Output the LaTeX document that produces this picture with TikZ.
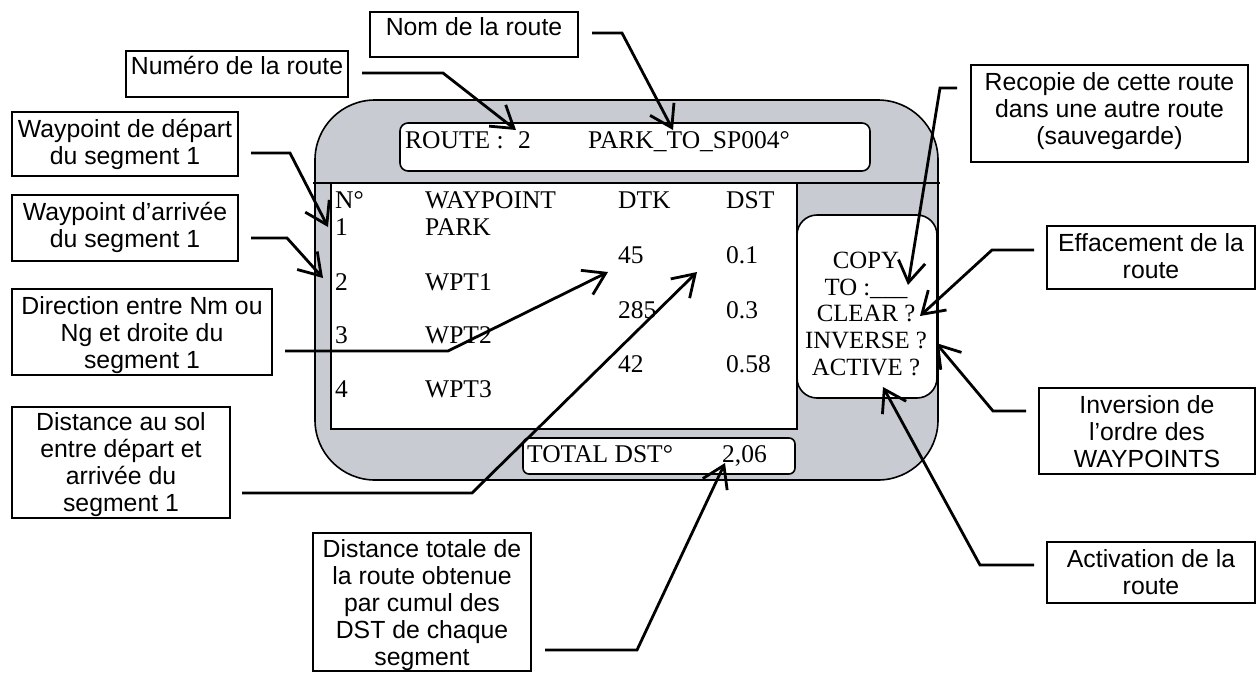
\documentclass[tikz,border=0pt]{standalone}
\usepackage{fontspec}
\setmainfont{Liberation Serif}
\setsansfont{Liberation Sans}
\usetikzlibrary{arrows.meta}
\definecolor{scr}{RGB}{200,203,210}
\newcommand\fsrule{\rule{0pt}{20pt}}
\newcommand\fsrul{\rule{0pt}{18pt}}
\begin{document}
\begin{tikzpicture}[x=1pt,y=-1pt,
  lbox/.style={draw, line width=1.8pt, inner sep=0pt, outer sep=0pt, anchor=north west},
  ltext/.style={font=\sffamily\fontsize{24.8}{27}\selectfont, align=center, inner sep=0pt, anchor=north},
  stext/.style={font=\rmfamily\fontsize{25.5}{27}\selectfont, inner sep=0pt, anchor=base west},
  panelbox/.style={draw, fill=white, inner sep=0pt, outer sep=0pt, anchor=north west},
  arr/.style={line width=2.8pt, -{Straight Barb[length=21pt,width=27pt]}},
]
\useasboundingbox (0,0) rectangle (1259,673);

% screen
\node (screen) [panelbox, fill=scr, line width=1.6pt, rounded corners=60pt,
  minimum width=623pt, minimum height=380pt] at (315,100) {};
\draw[line width=1.6pt] (313,183) -- (940,183);
\node (table) [panelbox, line width=1.8pt, minimum width=466pt, minimum height=246pt] at (331,183) {};
\node (header) [panelbox, line width=1.6pt, rounded corners=8pt, minimum width=470pt, minimum height=48pt] at (400,123) {};
\node (panel) [panelbox, line width=1.6pt, rounded corners=20pt, minimum width=140pt, minimum height=183pt] at (797,215) {};
\node (totbox) [panelbox, line width=1.6pt, rounded corners=6pt, minimum width=272pt, minimum height=36pt] at (523,438) {};

% screen texts
\node (routeLbl) [stext] at (405,148) {ROUTE :};
\node (routeNum) [stext] at (518,148) {2};
\node (routeName) [stext] at (588,148) {PARK\_TO\_SP004°};

\node (hN) [stext] at (335,208) {N°};
\node (hW) [stext] at (425,208) {WAYPOINT};
\node (hK) [stext] at (618,208) {DTK};
\node (hD) [stext] at (726,208) {DST};
\node (n1) [stext] at (335,235) {1};
\node (w1) [stext] at (425,235) {PARK};
\node (k1) [stext] at (618,263) {45};
\node (d1) [stext] at (726,263) {0.1};
\node (n2) [stext] at (335,290) {2};
\node (w2) [stext] at (425,290) {WPT1};
\node (k2) [stext] at (618,318) {285};
\node (d2) [stext] at (726,318) {0.3};
\node (n3) [stext] at (335,343) {3};
\node (w3) [stext] at (425,343) {WPT2};
\node (k3) [stext] at (618,372) {42};
\node (d3) [stext] at (726,372) {0.58};
\node (n4) [stext] at (335,397) {4};
\node (w4) [stext] at (425,397) {WPT3};
\node (totLbl) [stext] at (527,462) {TOTAL DST°};
\node (totVal) [stext] at (722,462) {2,06};

\node (panelText) [font=\rmfamily\fontsize{24.8}{26.8}\selectfont, align=center, inner sep=0pt, anchor=north]
  at (866,250) {\fsrul COPY\\TO :\_\_\_\\CLEAR ?\\INVERSE ?\\ACTIVE ?};

% label boxes
\node (bNom) [lbox, minimum width=208pt, minimum height=45pt] at (370,12) {};
\node (bNum) [lbox, minimum width=222pt, minimum height=46pt] at (126,51) {};
\node (bDep) [lbox, minimum width=226pt, minimum height=64pt] at (12,112) {};
\node (bArr) [lbox, minimum width=226pt, minimum height=66pt] at (12,195) {};
\node (bDir) [lbox, minimum width=260pt, minimum height=86pt] at (12,289) {};
\node (bSol) [lbox, minimum width=218pt, minimum height=111pt] at (12,407) {};
\node (bTot) [lbox, minimum width=218pt, minimum height=138pt] at (313,533) {};
\node (bRec) [lbox, minimum width=277pt, minimum height=97pt] at (971,65) {};
\node (bEff) [lbox, minimum width=208pt, minimum height=63pt] at (1047,226) {};
\node (bInv) [lbox, minimum width=216pt, minimum height=86pt] at (1039,388) {};
\node (bAct) [lbox, minimum width=208pt, minimum height=61pt] at (1047,542) {};

\node (tNom) [ltext] at ([yshift=-3pt]bNom.north) {\fsrule Nom de la route};
\node (tNum) [ltext] at ([yshift=-3pt]bNum.north) {\fsrule Numéro de la route};
\node (tDep) [ltext] at ([yshift=-5pt]bDep.north) {\fsrule Waypoint de départ\\du segment 1};
\node (tArr) [ltext] at ([yshift=-5pt]bArr.north) {\fsrule Waypoint d’arrivée\\du segment 1};
\node (tDir) [ltext] at ([yshift=-5pt]bDir.north) {\fsrule Direction entre Nm ou\\Ng et droite du\\segment 1};
\node (tSol) [ltext] at ([yshift=-3pt]bSol.north) {\fsrule Distance au sol\\entre départ et\\arrivée du\\segment 1};
\node (tTot) [ltext] at ([yshift=-4pt]bTot.north) {\fsrule Distance totale de\\la route obtenue\\par cumul des\\DST de chaque\\segment};
\node (tRec) [ltext] at ([yshift=-5pt]bRec.north) {\fsrule Recopie de cette route\\dans une autre route\\(sauvegarde)};
\node (tEff) [ltext] at ([yshift=-5pt]bEff.north) {\fsrule Effacement de la\\route};
\node (tInv) [ltext] at ([yshift=-5pt]bInv.north) {\fsrule Inversion de\\l’ordre des\\WAYPOINTS};
\node (tAct) [ltext] at ([yshift=-5pt]bAct.north) {\fsrule Activation de la\\route};

% arrow tips
\coordinate (pNom) at (673,130);
\coordinate (pNum) at (516,130);
\coordinate (pDep) at (328,227);
\coordinate (pArr) at (323,278);
\coordinate (pDir) at (608,272);
\coordinate (pSol) at (697,272);
\coordinate (pTot) at (725,463);
\coordinate (pRec) at (908,285);
\coordinate (pEff) at (920,316);
\coordinate (pInv) at (936,343);
\coordinate (pAct) at (883,387);

% connectors
\draw[arr] ([xshift=14pt,yshift=1.5pt]bNom.east) -- ++(30,0) -- (pNom);
\draw[arr] ([xshift=14pt,yshift=1pt]bNum.east) -- ++(81,0) -- (pNum);
\draw[arr] ([xshift=13pt,yshift=-9pt]bDep.east) -- ++(39,0) -- (pDep);
\draw[arr] ([xshift=13pt,yshift=-10pt]bArr.east) -- ++(36,0) -- (pArr);
\draw[arr] ([xshift=13pt,yshift=-19pt]bDir.east) -- ++(163,0) -- (pDir);
\draw[arr] ([xshift=12pt,yshift=-30.5pt]bSol.east) -- ++(230,0) -- (pSol);
\draw[arr] ([xshift=14pt,yshift=-48pt]bTot.east) -- ++(92,0) -- (pTot);
\draw[arr] ([xshift=-14pt,yshift=25.5pt]bRec.west) -- ++(-17,0) -- (pRec);
\draw[arr] ([xshift=-13pt,yshift=7.5pt]bEff.west) -- ++(-42,0) -- (pEff);
\draw[arr] ([xshift=-13pt,yshift=20pt]bInv.west) -- ++(-33,0) -- (pInv);
\draw[arr] ([xshift=-13pt,yshift=7.5pt]bAct.west) -- ++(-54,0) -- (pAct);
\end{tikzpicture}
\end{document}
